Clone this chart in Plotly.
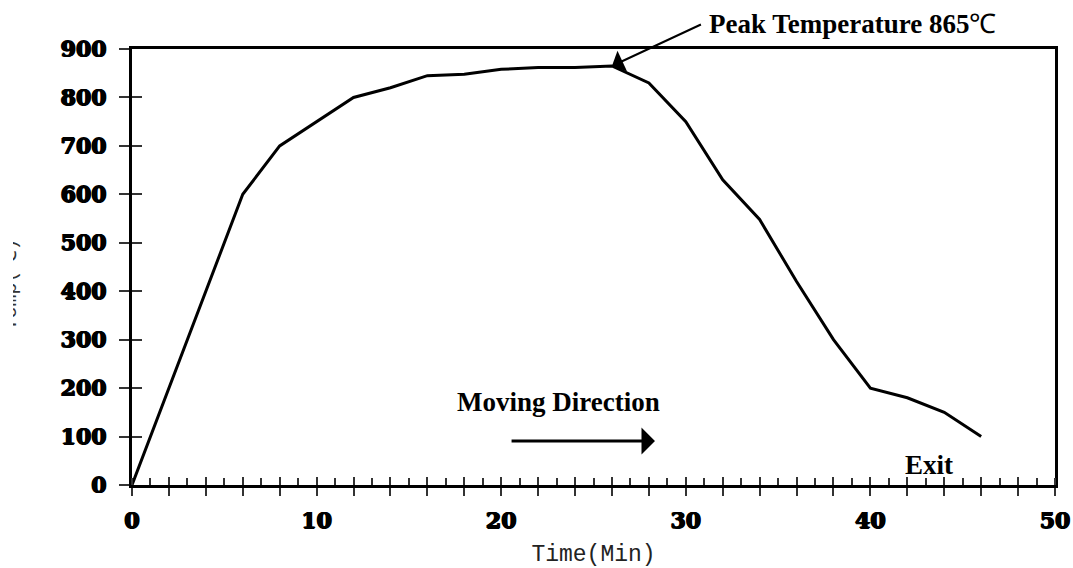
import plotly.graph_objects as go

# ---- data ----
time_min = [0, 6, 8, 10, 12, 14, 16, 18, 20, 22, 24, 26, 28, 30, 32, 34, 36, 38, 40, 42, 44, 46]
temp_c = [0, 600, 700, 750, 800, 820, 845, 848, 858, 862, 862, 865, 830, 750, 630, 548, 420, 300, 200, 180, 150, 100]

x_tickvals = list(range(0, 51, 2))
x_ticktext = [str(v) if v % 10 == 0 else "" for v in x_tickvals]
y_tickvals = list(range(0, 901, 100))
y_ticktext = [str(v) for v in y_tickvals]

peak_time, peak_temp = 26, 865
peak_label = 'Peak Temperature 865<span style="font-weight:normal">℃</span>'
x_title = "Time(Min)"
y_title = "Temp(℃)"

THICK = "0.8px 0 0 black, -0.8px 0 0 black, 0 0.6px 0 black, 0 -0.6px 0 black"
TICKFONT = dict(family="DejaVu Serif", size=22, color="black", weight="bold", shadow=THICK)
LABELFONT = dict(family="Liberation Serif", size=27, color="black", weight="bold")

fig = go.Figure()
fig.add_trace(go.Scatter(x=time_min, y=temp_c, mode="lines",
                         line=dict(color="black", width=3), showlegend=False,
                         hoverinfo="skip"))
# dummy trace for overlay axes (inside half of crossing ticks)
fig.add_trace(go.Scatter(x=[None], y=[None], xaxis="x2", yaxis="y2",
                         showlegend=False, hoverinfo="skip"))

# figure starts 13px from the page's left edge (the y title is clipped there, as in the source)
fig.update_layout(
    width=1060, height=568,
    margin=dict(l=119, r=18, t=49, b=83, autoexpand=False),
    paper_bgcolor="white", plot_bgcolor="white",
    xaxis=dict(range=[0, 50], tickmode="array", tickvals=x_tickvals, ticktext=x_ticktext,
               ticks="outside", ticklen=8, tickwidth=1.5, tickcolor="#333",
               minor=dict(ticks="inside", dtick=1, tick0=0, ticklen=7, tickwidth=1.5, tickcolor="#333"),
               showline=True, linecolor="black", linewidth=3, mirror=True, automargin=False,
               showgrid=False, zeroline=False, tickfont=TICKFONT, ticklabelstandoff=6,
               title=dict(text=x_title, font=dict(family="Liberation Mono", size=23, color="#222"),
                          standoff=18)),
    yaxis=dict(range=[0, 900], tickmode="array", tickvals=y_tickvals, ticktext=y_ticktext,
               ticks="outside", ticklen=10, tickwidth=1.5, tickcolor="#333", automargin=False,
               showline=True, linecolor="black", linewidth=3, mirror=True,
               showgrid=False, zeroline=False, tickfont=TICKFONT, ticklabelstandoff=8),
    xaxis2=dict(range=[0, 50], overlaying="x", anchor="y", side="bottom", automargin=False,
                tickmode="array", tickvals=x_tickvals, ticks="inside", ticklen=8,
                tickwidth=1.5, tickcolor="#333", showticklabels=False,
                showline=False, showgrid=False, zeroline=False),
    yaxis2=dict(range=[0, 900], overlaying="y", anchor="x", side="left", automargin=False,
                tickmode="array", tickvals=y_tickvals, ticks="inside", ticklen=10,
                tickwidth=1.5, tickcolor="#333", showticklabels=False,
                showline=False, showgrid=False, zeroline=False),
)

# peak arrow
fig.add_annotation(x=peak_time, y=peak_temp, ax=30.9, ay=952, xref="x", yref="y",
                   axref="x", ayref="y", text="", showarrow=True, arrowhead=1,
                   arrowsize=1.9, arrowwidth=2, arrowcolor="black", standoff=0)
fig.add_annotation(x=0.623, y=1.057, xref="paper", yref="paper", text=peak_label, showarrow=False,
                   xanchor="left", yanchor="middle", font=LABELFONT)
# moving direction
fig.add_annotation(x=0.35, y=0.19, xref="paper", yref="paper", text="Moving Direction",
                   showarrow=False, xanchor="left", yanchor="middle", font=LABELFONT)
fig.add_annotation(x=28.33, y=91, ax=20.48, ay=91, xref="x", yref="y", axref="x", ayref="y",
                   text="", showarrow=True, arrowhead=1, arrowsize=1.5, arrowwidth=3,
                   arrowcolor="black", standoff=0)
# exit
fig.add_annotation(x=0.8353, y=0.046, xref="paper", yref="paper", text="Exit", showarrow=False,
                   xanchor="left", yanchor="middle", font=LABELFONT)
# y title (partly clipped by the figure's left edge)
fig.add_annotation(x=-0.1322, y=0.46, xref="paper", yref="paper", text=y_title, textangle=-90,
                   showarrow=False, xanchor="center", yanchor="middle",
                   font=dict(family="Liberation Mono", size=20, color="#333"))

fig.write_html("out.html", config={"displayModeBar": False},
               post_script="document.body.style.margin='0 0 0 13px';document.body.style.overflow='hidden';")
